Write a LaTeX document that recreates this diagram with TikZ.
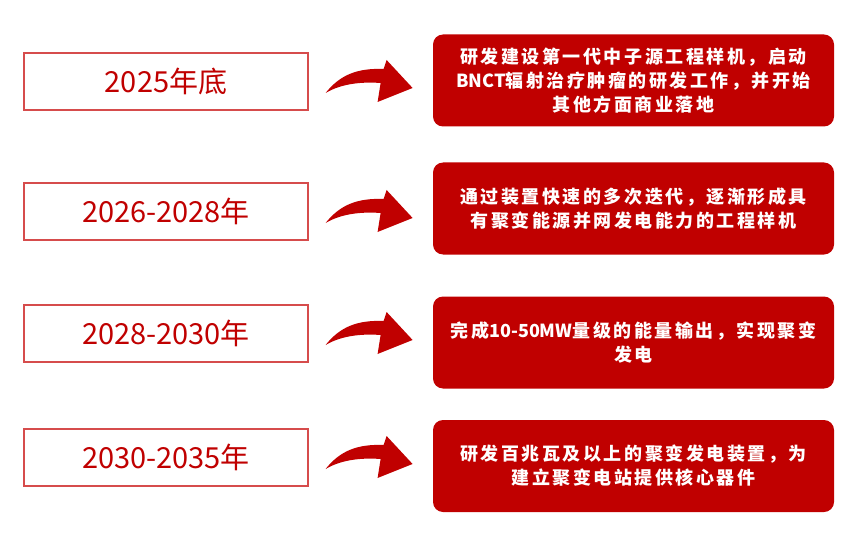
\documentclass[tikz,border=0pt]{standalone}
\usepackage{fontspec}
\setmainfont{Noto Sans CJK SC}
\newfontfamily\notefont[LetterSpace=14]{Noto Sans CJK SC}
\newfontfamily\latinfont{Noto Sans CJK SC}
\usepackage{xcolor}
\usepackage{tikz}
\definecolor{darkred}{RGB}{192,0,0}
\definecolor{edgered}{RGB}{214,76,76}
\newcommand{\lat}[1]{{\latinfont\bfseries #1}}
\begin{document}
\begin{tikzpicture}[x=1pt, y=-1pt,
  yearbox/.style={draw=edgered, line width=1.2pt, fill=white, minimum width=284pt, minimum height=57pt, inner sep=0pt, text=darkred, font=\fontsize{29}{34}\selectfont},
  notebox/.style={fill=darkred, rounded corners=10pt, minimum width=401pt, minimum height=92pt, inner sep=0pt, text=white, align=center, font=\notefont\bfseries\fontsize{18}{24}\selectfont},
  bendarrow/.pic={\fill[darkred] (17,11.5) .. controls (32,-7.5) and (50,-13.5) .. (75,-12.5) -- (78,-21.5) -- (104,6.5) -- (69,20.5) -- (72,1.5) .. controls (52,0) and (32,2.5) .. (17,11.5) -- cycle;}]
  \useasboundingbox (0,0) rectangle (850,537);
  \node[yearbox] (y1) at (166,81.5) {2025年底};
  \node[yearbox] (y2) at (166,211.5) {2026-2028年};
  \node[yearbox] (y3) at (166,333.5) {2028-2030年};
  \node[yearbox] (y4) at (166,457.5) {2030-2035年};
  \node[notebox] (n1) at (633.5,80.5) {研发建设第一代中子源工程样机，启动\\\lat{BNCT}辐射治疗肿瘤的研发工作，并开始\\其他方面商业落地};
  \node[notebox] (n2) at (633.5,208.5) {通过装置快速的多次迭代，逐渐形成具\\有聚变能源并网发电能力的工程样机};
  \node[notebox] (n3) at (633.5,342.5) {完成\lat{10-50MW}量级的能量输出，实现聚变\\发电};
  \node[notebox] (n4) at (633.5,466) {研发百兆瓦及以上的聚变发电装置，为\\建立聚变电站提供核心器件};
  \foreach \r in {1,...,4}
    \pic at (y\r.east) {bendarrow};
\end{tikzpicture}
\end{document}
